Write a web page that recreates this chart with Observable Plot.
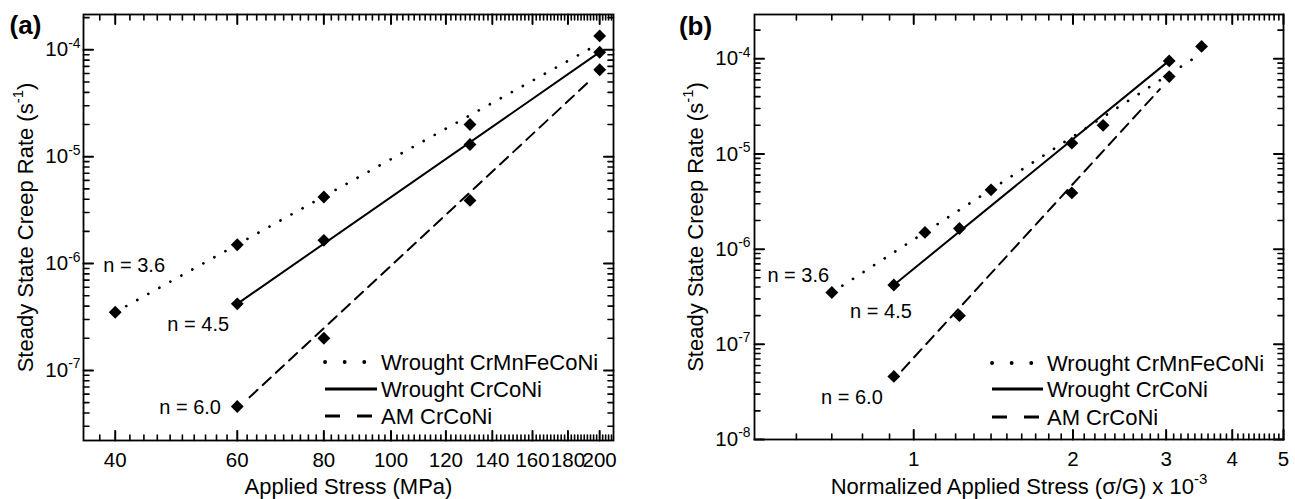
<!DOCTYPE html>
<html>
<head>
<meta charset="utf-8">
<script src="https://cdn.jsdelivr.net/npm/d3@7"></script>
<script src="https://cdn.jsdelivr.net/npm/@observablehq/plot@0.6"></script>
<style>
  html, body { margin: 0; padding: 0; background: #fff; }
  body { font-family: "Liberation Sans", Arial, sans-serif; }
  #wrap { width: 1295px; height: 499px; display: flex; overflow: hidden; }
  #wrap > svg { flex: none; }
</style>
</head>
<body>
<div id="wrap"></div>
<script>
// ---------------- data ----------------
const seriesNames = ["Wrought CrMnFeCoNi", "Wrought CrCoNi", "AM CrCoNi"];

// panel (a): applied stress, MPa
const stressCrMnFeCoNi = [40, 60, 80, 130, 200];
const stressCrCoNi     = [60, 80, 130, 200];
const stressAMCrCoNi   = [60, 80, 130, 200];

// panel (b): normalized applied stress (sigma/G) x 10^-3
const normCrMnFeCoNi = [0.70, 1.05, 1.40, 2.28, 3.50];
const normCrCoNi     = [0.917, 1.22, 1.99, 3.04];
const normAMCrCoNi   = [0.917, 1.22, 1.99, 3.04];

// steady state creep rate, 1/s (same measurements in both panels)
const rateCrMnFeCoNi = [3.5e-7, 1.5e-6, 4.2e-6, 2.0e-5, 1.35e-4];
const rateCrCoNi     = [4.2e-7, 1.65e-6, 1.3e-5, 9.5e-5];
const rateAMCrCoNi   = [4.6e-8, 2.0e-7, 3.9e-6, 6.5e-5];

// power-law fit lines: end points
const fitStressCrMnFeCoNi = [40, 196];     const fitRateACrMnFeCoNi = [3.5e-7, 1.07e-4];
const fitStressCrCoNi     = [60, 200];     const fitRateACrCoNi     = [4.2e-7, 9.5e-5];
const fitStressAMCrCoNi   = [62.5, 194];   const fitRateAAMCrCoNi   = [5.6e-8, 5.2e-5];
const fitNormCrMnFeCoNi   = [0.70, 3.42];  const fitRateBCrMnFeCoNi = [3.5e-7, 1.05e-4];
const fitNormCrCoNi       = [0.917, 3.0];  const fitRateBCrCoNi     = [4.2e-7, 9.0e-5];
const fitNormAMCrCoNi     = [0.95, 2.92];  const fitRateBAMCrCoNi   = [5.3e-8, 4.8e-5];

// stress exponent annotations
const exponentLabels = ["n = 3.6", "n = 4.5", "n = 6.0"];
const noteStressA = [42.6, 52.7, 51.3];
const noteRateA   = [9.6e-7, 2.69e-7, 4.5e-8];
const noteNormB   = [0.605, 0.867, 0.764];
const noteRateB   = [5.3e-7, 2.22e-7, 2.78e-8];

// axis ticks
const xTickLabelsA = [40, 60, 80, 100, 120, 140, 160, 180, 200];
const xTickLabelsB = [1, 2, 3, 4, 5];
const yTickLabelsA = [1e-7, 1e-6, 1e-5, 1e-4];
const yTickLabelsB = [1e-8, 1e-7, 1e-6, 1e-5, 1e-4];

const xLabelA = "Applied Stress (MPa)";
const xLabelB = "Normalized Applied Stress (σ/G) x 10^{-3}";
const yLabel  = "Steady State Creep Rate (s^{-1})";

// ---------------- styles ----------------
const ink = "#000";
const FONT = "Liberation Sans, Arial, sans-serif";
const lineStyle = {
  "Wrought CrMnFeCoNi": {strokeDasharray: "0.1,12.5", strokeLinecap: "round", strokeWidth: 2.7},
  "Wrought CrCoNi": {strokeWidth: 2},
  "AM CrCoNi": {strokeDasharray: "11,7", strokeWidth: 2}
};
const legendStyle = {
  "Wrought CrMnFeCoNi": {dash: "0.1,19.5", cap: "round", w: 3.8},
  "Wrought CrCoNi": {dash: null, cap: "butt", w: 3},
  "AM CrCoNi": {dash: "15,17", cap: "butt", w: 3}
};

// ---------------- helpers ----------------
function table(names, xs, ys) {
  const out = [];
  names.forEach((name, k) => xs[k].forEach((x, i) => out.push({series: name, x, y: ys[k][i]})));
  return out;
}
function logMinors(domain) {
  const out = [];
  const lo = Math.floor(Math.log10(domain[0])), hi = Math.ceil(Math.log10(domain[1]));
  for (let e = lo; e <= hi; e++) for (let m = 2; m <= 9; m++) {
    const v = +(m + "e" + e);
    if (v >= domain[0] && v <= domain[1]) out.push(v);
  }
  return out;
}
// inward tick segments: the inner end is found from the log scale's extent per pixel
function tickSegments(values, axis, side, len, xDomain, yDomain, fw, fh) {
  const fx = Math.pow(xDomain[1] / xDomain[0], len / fw);
  const fy = Math.pow(yDomain[1] / yDomain[0], len / fh);
  const out = [];
  values.forEach((v, i) => {
    const id = axis + side + len + "_" + i;
    if (axis === "x") {
      const y0 = side === "bottom" ? yDomain[0] : yDomain[1];
      const y1 = side === "bottom" ? y0 * fy : y0 / fy;
      out.push({id, x: v, y: y0}, {id, x: v, y: y1});
    } else {
      const x0 = side === "left" ? xDomain[0] : xDomain[1];
      const x1 = side === "left" ? x0 * fx : x0 / fx;
      out.push({id, x: x0, y: v}, {id, x: x1, y: v});
    }
  });
  return out;
}
function supify(svg) {
  const NS = "http://www.w3.org/2000/svg";
  svg.querySelectorAll("text").forEach(t => {
    const targets = t.querySelector("tspan") ? [...t.querySelectorAll("tspan")] : [t];
    targets.forEach(el => {
      const s = el.textContent;
      if (!s.includes("^{")) return;
      const holder = el.closest("[font-size]");
      const fs = holder ? parseFloat(holder.getAttribute("font-size")) : 20;
      const rise = 0.42 * fs;
      el.textContent = "";
      const parts = s.split(/(\^\{[^}]*\})/).filter(p => p !== "");
      let raised = false;
      parts.forEach(p => {
        const sp = document.createElementNS(NS, "tspan");
        if (p.startsWith("^{")) {
          sp.textContent = p.slice(2, -1);
          sp.setAttribute("dy", -rise);
          sp.setAttribute("font-size", (0.68 * fs).toFixed(1));
          raised = true;
        } else {
          sp.textContent = p;
          if (raised) { sp.setAttribute("dy", rise); raised = false; }
        }
        el.appendChild(sp);
      });
    });
  });
}

function buildPanel(cfg) {
  const {width, margin, xDomain, yDomain, xTicks, xMinor, yMajor, points, fits, notes,
         xLabel, tag, tagDx, tagDy, yLabelDx, xLabelDy, yPad, legend} = cfg;
  const H = 499;
  const fw = width - margin.left - margin.right;
  const fh = H - margin.top - margin.bottom;
  const yMinor = logMinors(yDomain);
  const MAJ = 9.5, MIN = 5.5;
  const seg = (vals, axis, side, len) => tickSegments(vals, axis, side, len, xDomain, yDomain, fw, fh);
  const majorSegs = [
    ...seg(xTicks, "x", "bottom", MAJ), ...seg(xTicks, "x", "top", MAJ),
    ...seg(yMajor, "y", "left", MAJ), ...seg(yMajor, "y", "right", MAJ)
  ];
  const minorSegs = [
    ...seg(xMinor, "x", "bottom", MIN), ...seg(xMinor, "x", "top", MIN),
    ...seg(yMinor, "y", "left", MIN), ...seg(yMinor, "y", "right", MIN)
  ];
  const marks = [
    ...seriesNames.map(name => Plot.line(fits.filter(d => d.series === name),
        {x: "x", y: "y", stroke: ink, ...lineStyle[name]})),
    Plot.dot(points, {x: "x", y: "y", symbol: "diamond2", r: 5.8, fill: ink}),
    Plot.text(notes, {x: "x", y: "y", text: "text", fontSize: 20, fill: ink}),
    Plot.axisX(xTicks, {anchor: "bottom", tickSize: 0, tickPadding: 12, fontSize: 20.5, label: null,
        fill: ink, tickFormat: d => String(d)}),
    Plot.axisY(yMajor, {anchor: "left", tickSize: 0, tickPadding: yPad, fontSize: 20.5, label: null,
        fill: ink, tickFormat: d => `10^{${Math.round(Math.log10(d))}}`}),
    Plot.text([xLabel], {frameAnchor: "bottom", dy: xLabelDy, textAnchor: "middle", lineAnchor: "middle",
        fontSize: 22, fill: ink}),
    Plot.text([yLabel], {frameAnchor: "left", rotate: -90, dx: yLabelDx, textAnchor: "middle",
        lineAnchor: "middle", fontSize: 22, fill: ink}),
    Plot.text([tag], {frameAnchor: "top-left", dx: tagDx, dy: tagDy, textAnchor: "middle",
        lineAnchor: "middle", fontSize: 26, fontWeight: "bold", fill: ink}),
    Plot.frame({stroke: ink, strokeWidth: 1.8}),
    // inward ticks on all four sides, as short line paths
    Plot.line(majorSegs, {x: "x", y: "y", z: "id", stroke: ink, strokeWidth: 2}),
    Plot.line(minorSegs, {x: "x", y: "y", z: "id", stroke: ink, strokeWidth: 1.6})
  ];
  const svg = Plot.plot({
    width, height: H,
    marginLeft: margin.left, marginRight: margin.right, marginTop: margin.top, marginBottom: margin.bottom,
    x: {type: "log", domain: xDomain},
    y: {type: "log", domain: yDomain},
    style: {fontFamily: FONT, color: ink, background: "#fff"},
    marks
  });
  supify(svg);

  // in-plot legend, appended into the same svg
  const lg = d3.select(svg).append("g").attr("aria-label", "legend").attr("text-anchor", "start");
  seriesNames.forEach((name, i) => {
    const y = legend.rows[i], st = legendStyle[name];
    lg.append("line").attr("x1", legend.x0).attr("x2", legend.x1).attr("y1", y).attr("y2", y)
      .attr("stroke", ink).attr("stroke-width", st.w).attr("stroke-linecap", st.cap)
      .attr("stroke-dasharray", st.dash);
    lg.append("text").attr("x", legend.tx).attr("y", y).attr("dy", "0.35em")
      .attr("text-anchor", "start")
      .attr("font-size", 22).attr("font-family", FONT)
      .attr("fill", ink).text(name);
  });
  return svg;
}

// ---------------- panels ----------------
const pointsA = table(seriesNames, [stressCrMnFeCoNi, stressCrCoNi, stressAMCrCoNi],
                      [rateCrMnFeCoNi, rateCrCoNi, rateAMCrCoNi]);
const fitsA = table(seriesNames, [fitStressCrMnFeCoNi, fitStressCrCoNi, fitStressAMCrCoNi],
                    [fitRateACrMnFeCoNi, fitRateACrCoNi, fitRateAAMCrCoNi]);
const notesA = exponentLabels.map((text, i) => ({text, x: noteStressA[i], y: noteRateA[i]}));
const pointsB = table(seriesNames, [normCrMnFeCoNi, normCrCoNi, normAMCrCoNi],
                      [rateCrMnFeCoNi, rateCrCoNi, rateAMCrCoNi]);
const fitsB = table(seriesNames, [fitNormCrMnFeCoNi, fitNormCrCoNi, fitNormAMCrCoNi],
                    [fitRateBCrMnFeCoNi, fitRateBCrCoNi, fitRateBAMCrCoNi]);
const notesB = exponentLabels.map((text, i) => ({text, x: noteNormB[i], y: noteRateB[i]}));

const xDomainA = [36, 209.4];
const xMinorA = d3.range(38, 210, 2).filter(v => !xTickLabelsA.includes(v));
const xDomainB = [0.5, 5];
const xMinorB = d3.range(6, 50).map(v => v / 10).filter(v => !xTickLabelsB.includes(v));

const wrap = document.getElementById("wrap");
wrap.appendChild(buildPanel({
  width: 647, margin: {left: 83, right: 34, top: 14, bottom: 59},
  xDomain: xDomainA, yDomain: [2.21e-8, 2.14e-4],
  xTicks: xTickLabelsA, xMinor: xMinorA, yMajor: yTickLabelsA,
  points: pointsA, fits: fitsA, notes: notesA,
  xLabel: xLabelA, tag: "(a)", tagDx: -58, tagDy: 11, yLabelDx: -58, xLabelDy: 46, yPad: 3,
  legend: {x0: 325, x1: 377, tx: 381, rows: [362, 389, 416]}
}));
wrap.appendChild(buildPanel({
  width: 648, margin: {left: 107, right: 12, top: 14, bottom: 60},
  xDomain: xDomainB, yDomain: [1e-8, 2.92e-4],
  xTicks: xTickLabelsB, xMinor: xMinorB, yMajor: yTickLabelsB,
  points: pointsB, fits: fitsB, notes: notesB,
  xLabel: xLabelB, tag: "(b)", tagDx: -59, tagDy: 12, yLabelDx: -59, xLabelDy: 47, yPad: 4,
  legend: {x0: 345, x1: 396, tx: 400, rows: [363, 389, 417]}
}));
</script>
</body>
</html>
